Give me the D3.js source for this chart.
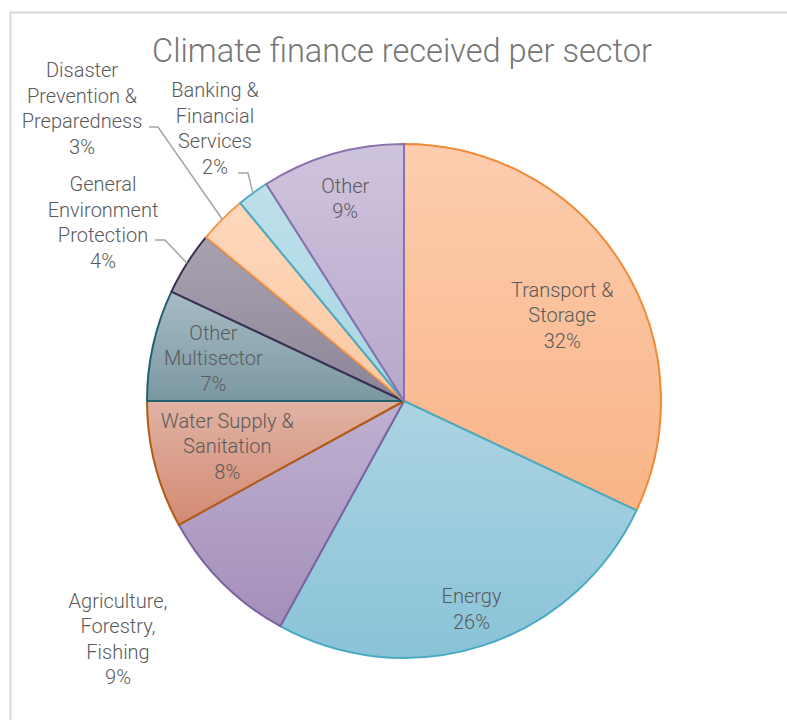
<!DOCTYPE html>
<html>
<head>
<meta charset="utf-8">
<script src="https://cdn.jsdelivr.net/npm/d3@7"></script>
<style>
  html, body { margin: 0; padding: 0; background: #fff; }
  svg { display: block; }
  text { font-family: Roboto, "Noto Sans", sans-serif; }
</style>
</head>
<body>
<svg id="chart" width="787" height="720"></svg>
<script>
// Sector shares of climate finance received (%)
const sectors = [
  "Transport & Storage",
  "Energy",
  "Agriculture, Forestry, Fishing",
  "Water Supply & Sanitation",
  "Other Multisector",
  "General Environment Protection",
  "Disaster Prevention & Preparedness",
  "Banking & Financial Services",
  "Other"
];
const shares = [32, 26, 9, 8, 7, 4, 3, 2, 9];

// Label text lines for each sector (percentage appended as last line)
const labelLines = [
  ["Transport &", "Storage"],
  ["Energy"],
  ["Agriculture,", "Forestry,", "Fishing"],
  ["Water Supply &", "Sanitation"],
  ["Other", "Multisector"],
  ["General", "Environment", "Protection"],
  ["Disaster", "Prevention &", "Preparedness"],
  ["Banking &", "Financial", "Services"],
  ["Other"]
];

const title = "Climate finance received per sector";

// Fill gradient (top, bottom of each slice) and outline per sector
const fillTop =    ["#fccdae", "#acd4e2", "#bfb1d2", "#e0b2a3", "#a7bcc4", "#a8a2b0", "#fdd8bb", "#bde0ea", "#cfc4dd"];
const fillBottom = ["#f9b487", "#89c3d8", "#a48fb9", "#d38a73", "#7b98a2", "#8c8598", "#fbc9a3", "#a9d6e3", "#b7a7cb"];
const outline =    ["#f08a36", "#4aaac4", "#7c62a0", "#b55a12", "#22606f", "#3d2f56", "#f39a50", "#4aaac4", "#8a70ac"];

const W = 787, H = 720;
const cx = 404, cy = 401, R = 257;
const lineH = 25.5;

const svg = d3.select("#chart");

// Chart frame
svg.append("rect")
  .attr("x", 10.5).attr("y", 12.5)
  .attr("width", W + 20).attr("height", H + 20)
  .attr("fill", "#fff")
  .attr("stroke", "#d9d9d9")
  .attr("stroke-width", 2);

// Title
svg.append("text")
  .attr("x", 402).attr("y", 51)
  .attr("text-anchor", "middle")
  .attr("dominant-baseline", "central")
  .attr("font-size", 32.6)
  .attr("font-weight", 300)
  .attr("fill", "#767676")
  .text(title);

// Vertical gradient within each slice's own bounding box
const defs = svg.append("defs");
shares.forEach((_, i) => {
  const g = defs.append("linearGradient")
    .attr("id", "grad" + i)
    .attr("x1", 0).attr("x2", 0)
    .attr("y1", 0).attr("y2", 1);
  g.append("stop").attr("offset", "0%").attr("stop-color", fillTop[i]);
  g.append("stop").attr("offset", "100%").attr("stop-color", fillBottom[i]);
});

const data = sectors.map((s, i) => ({ name: s, value: shares[i], idx: i }));
const pie = d3.pie().value(d => d.value).sort(null);
const arcs = pie(data);
const arc = d3.arc().innerRadius(0).outerRadius(R);

const g = svg.append("g").attr("transform", `translate(${cx},${cy})`);

g.selectAll("path.slice")
  .data(arcs)
  .join("path")
  .attr("class", "slice")
  .attr("d", arc)
  .attr("fill", d => `url(#grad${d.data.idx})`)
  .attr("stroke", d => outline[d.data.idx])
  .attr("stroke-width", 2)
  .attr("stroke-linejoin", "round");

// Label placement: inside labels sit on a fraction of the radius along the slice's
// mid-angle (plus a small angular nudge in degrees); outside labels get their own
// anchor and a leader line back to the rim.
const inside = { 0: [0.70, 4], 1: [0.85, 0], 3: [0.71, 0], 4: [0.76, 0], 8: [0.82, 0] };
const outside = {
  2: { x: 118, y: 639, leader: null },
  5: { x: 103, y: 222.5, leader: { from: [155, 240], elbow: [165, 240] } },
  6: { x: 82,  y: 108.5, leader: { from: [149, 127], elbow: [158, 127] } },
  7: { x: 215, y: 128.5, leader: { from: [238, 173], elbow: [248, 173] } }
};

const mid = d => (d.startAngle + d.endAngle) / 2;
const polar = (a, r) => [r * Math.sin(a), -r * Math.cos(a)];

const labels = svg.append("g");

arcs.forEach(d => {
  const i = d.data.idx;
  const lines = labelLines[i].concat([d3.format(".0f")(d.data.value) + "%"]);
  let x, y;
  if (inside[i] !== undefined) {
    const p = polar(mid(d) + inside[i][1] * Math.PI / 180, R * inside[i][0]);
    x = cx + p[0]; y = cy + p[1];
  } else {
    x = outside[i].x; y = outside[i].y;
    const L = outside[i].leader;
    if (L) {
      const e = polar(mid(d), R);
      labels.append("polyline")
        .attr("points", [L.from, L.elbow, [cx + e[0], cy + e[1]]].map(p => p.join(",")).join(" "))
        .attr("fill", "none")
        .attr("stroke", "#a6a6a6")
        .attr("stroke-width", 1.5);
    }
  }
  const t = labels.append("text")
    .attr("text-anchor", "middle")
    .attr("font-size", 20)
    .attr("font-weight", 300)
    .attr("fill", "#5a5a5a");
  const y0 = y - (lines.length - 1) * lineH / 2;
  lines.forEach((ln, k) => {
    t.append("tspan")
      .attr("x", x)
      .attr("y", y0 + k * lineH)
      .attr("dominant-baseline", "central")
      .text(ln);
  });
});
</script>
</body>
</html>
